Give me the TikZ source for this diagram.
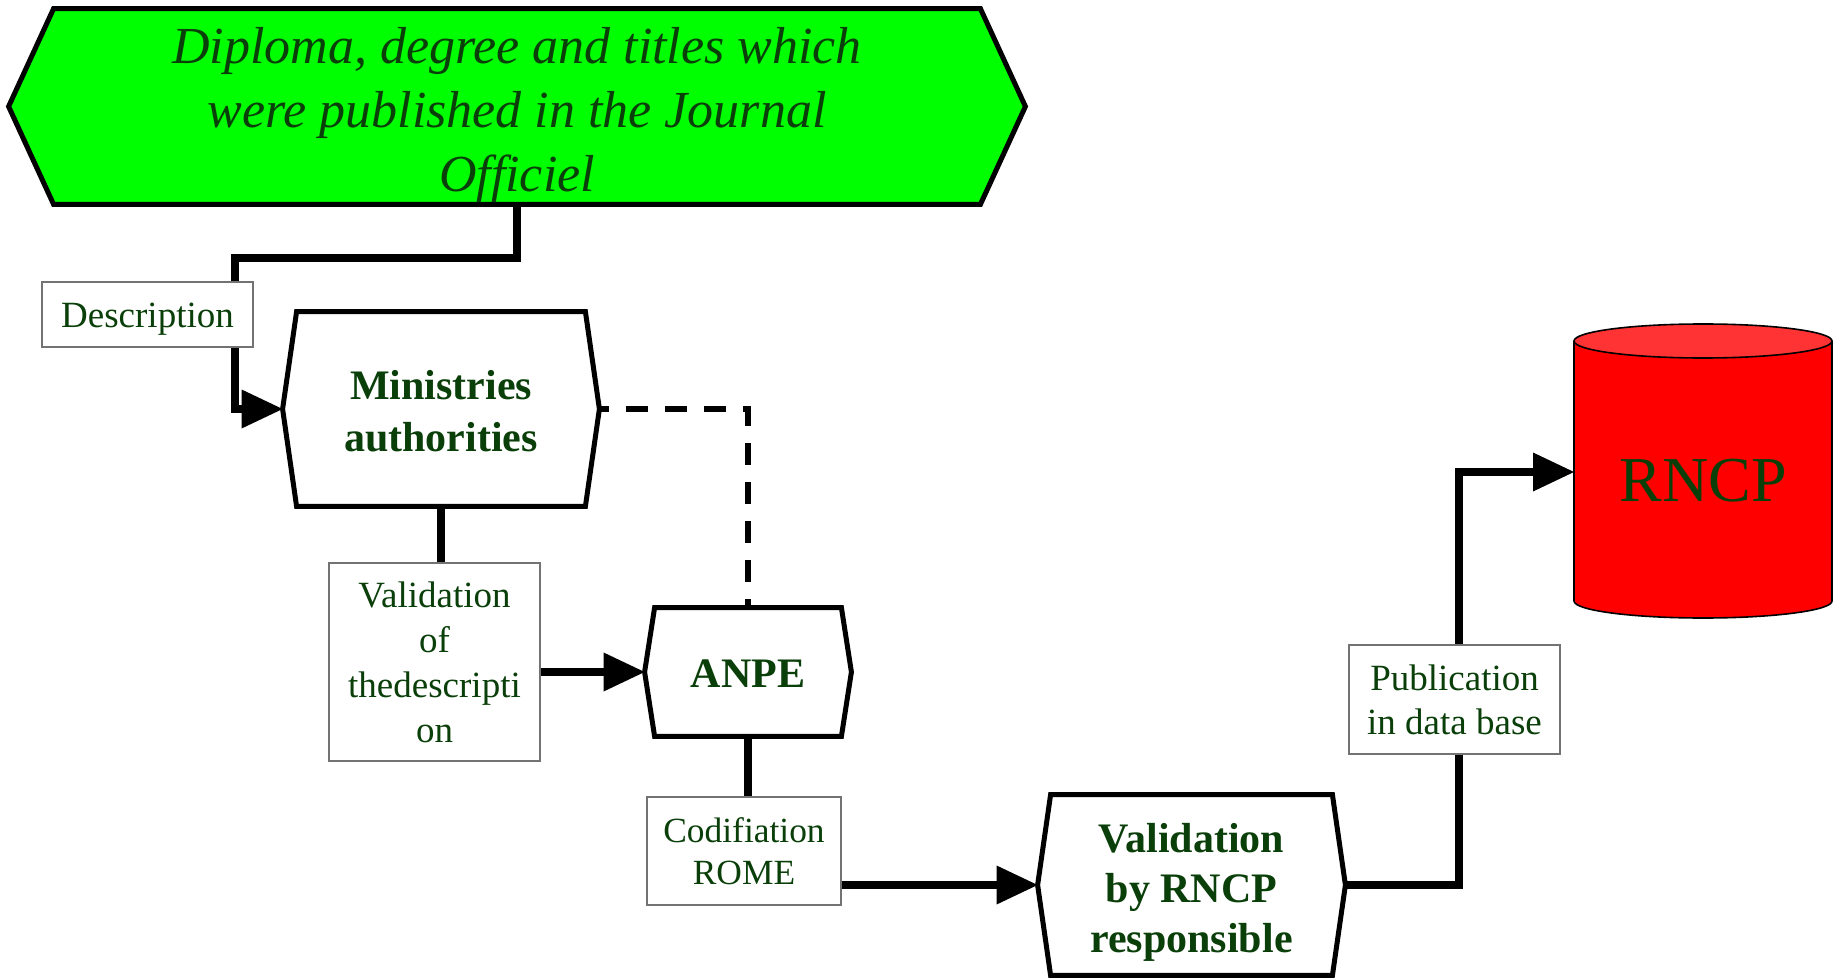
\documentclass[tikz,border=0pt]{standalone}
\usepackage{fontspec}
\setmainfont{Liberation Serif}
\usetikzlibrary{arrows.meta,backgrounds}
\definecolor{txtgreen}{HTML}{0A3F0A}
\definecolor{limefill}{HTML}{00FF00}
\definecolor{cylred}{HTML}{FF0000}
\definecolor{cyltop}{HTML}{FF3333}
\begin{document}
\begin{tikzpicture}[x=0.5pt,y=-0.5pt,
  conn/.style={line width=3.8pt, line join=miter},
  arr/.style={-{Triangle[length=20.5pt,width=19.5pt,line width=0pt]}},
  hexborder/.style={line width=2.5pt, line join=miter},
  dashline/.style={line width=3pt, dash pattern=on 11pt off 8.5pt, dash phase=6pt},
  hexbody/.style={inner sep=0pt},
  hextext/.style={inner sep=0pt, align=center, text=txtgreen},
  boldtxt/.style={hextext, font=\fontsize{21}{26}\selectfont\bfseries},
  lbl/.style={draw=black!55, line width=0.7pt, fill=white, text=txtgreen, align=center,
    font=\fontsize{18.5}{22.5}\selectfont, inner sep=0pt},
]
\useasboundingbox (0,0) rectangle (1834,978);

% process boxes (hexagon bodies)
\node[hexbody, minimum width=463pt, minimum height=97.5pt] (dip) at (517,106.5) {};
\node[hexbody, minimum width=144pt, minimum height=97pt] (min) at (441,409) {};
\node[hexbody, minimum width=93pt, minimum height=64pt] (anpe) at (748,672) {};
\node[hexbody, minimum width=140.5pt, minimum height=90pt] (vr) at (1191.5,885) {};

\coordinate (dipL) at ([xshift=-22.5pt]dip.west);
\coordinate (dipR) at ([xshift=22.5pt]dip.east);
\coordinate (minL) at ([xshift=-7pt]min.west);
\coordinate (minR) at ([xshift=7pt]min.east);
\coordinate (anpeL) at ([xshift=-5pt]anpe.west);
\coordinate (anpeR) at ([xshift=5pt]anpe.east);
\coordinate (vrL) at ([xshift=-6.5pt]vr.west);
\coordinate (vrR) at ([xshift=6.5pt]vr.east);

\begin{scope}[on background layer]
  \draw[hexborder, fill=limefill] (dip.north west) -- (dip.north east) -- (dipR)
     -- (dip.south east) -- (dip.south west) -- (dipL) -- cycle;
  \draw[hexborder, fill=white] (min.north west) -- (min.north east) -- (minR)
     -- (min.south east) -- (min.south west) -- (minL) -- cycle;
  \draw[hexborder, fill=white] (anpe.north west) -- (anpe.north east) -- (anpeR)
     -- (anpe.south east) -- (anpe.south west) -- (anpeL) -- cycle;
  \draw[hexborder, fill=white] (vr.north west) -- (vr.north east) -- (vrR)
     -- (vr.south east) -- (vr.south west) -- (vrL) -- cycle;
\end{scope}

% hexagon texts
\node[hextext, font=\fontsize{26}{32}\selectfont\itshape] (diptext) at ([yshift=-4pt]dip.center)
  {Diploma, degree and titles which\\were published in the Journal\\Officiel};
\node[boldtxt] (mintext) at ([yshift=-1pt]min.center) {Ministries\\authorities};
\node[boldtxt] (anpetext) at ([yshift=-1pt]anpe.center) {ANPE};
\node[boldtxt, font=\fontsize{21}{25}\selectfont\bfseries] (vrtext) at ([yshift=-3.5pt]vr.center)
  {Validation\\by RNCP\\responsible};

% database cylinder
\fill[cylred] (1574,341) -- (1574,601) arc[start angle=180, end angle=360, x radius=64.5pt, y radius=8.5pt]
   -- (1832,341) arc[start angle=0, end angle=180, x radius=64.5pt, y radius=8.5pt] -- cycle;
\draw[line width=0.8pt] (1574,341) -- (1574,601) arc[start angle=180, end angle=360, x radius=64.5pt, y radius=8.5pt]
   -- (1832,341);
\draw[line width=0.8pt, fill=cyltop] (1703,341) ellipse[x radius=64.5pt, y radius=8.5pt];
\node[text=txtgreen, font=\fontsize{32}{36}\selectfont, inner sep=0pt] (rncp) at (1703,481) {RNCP};
\coordinate (rncpL) at (1574,472);

% connectors
\coordinate (k1) at (235,258);
\coordinate (k2) at (1459,472);
\draw[conn, arr] (dip.south) |- (k1) |- (minL);
\draw[conn, arr] (min.south) |- (anpeL);
\draw[conn, arr] (anpe.south) |- (vrL);
\draw[conn, arr] (vrR) -| (k2) -- (rncpL);
\draw[dashline] (minR) -| (anpe.north);

% labels
\node[lbl, minimum width=105.5pt, minimum height=32.5pt] (desc) at (147.5,314.5)
  {\raisebox{-2.5pt}[\height][\depth]{Description}};
\node[lbl, minimum width=105.5pt, minimum height=99pt] (val) at (434.5,662)
  {Validation\\of\\thedescripti\\on};
\node[lbl, font=\fontsize{17.7}{21}\selectfont, minimum width=97pt, minimum height=54pt] (cod) at (744,851)
  {Codifiation\\ROME};
\node[lbl, font=\fontsize{18.5}{22}\selectfont, minimum width=105.5pt, minimum height=54.5pt] (pub) at (1454.5,699.5)
  {Publication\\in data base};
\end{tikzpicture}
\end{document}
